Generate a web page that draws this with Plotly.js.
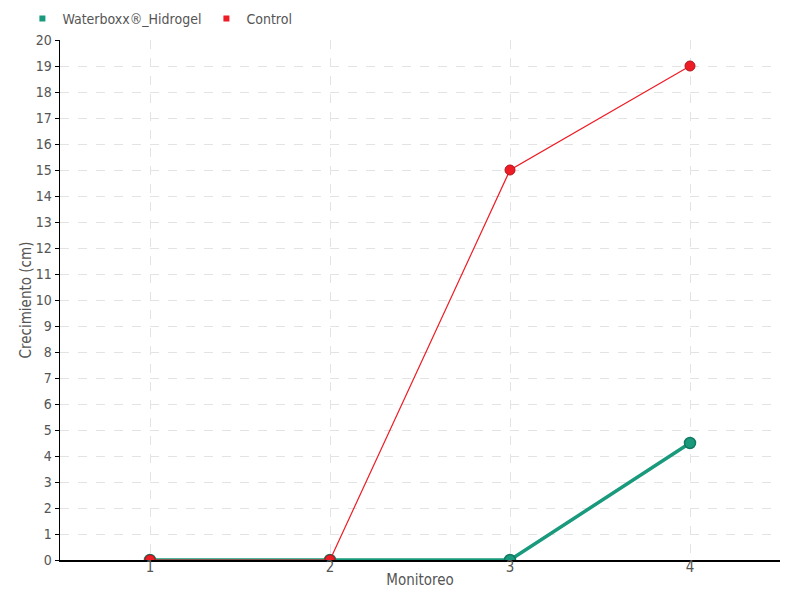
<!DOCTYPE html>
<html>
<head>
<meta charset="utf-8">
<script src="https://cdn.plot.ly/plotly-3.0.1.min.js"></script>
<style>body{margin:0;padding:0;}#chart{width:800px;height:600px;}</style>
</head>
<body>
<div id="chart"></div>
<script>
var categories = [1, 2, 3, 4];
var waterboxx = [0, 0, 0, 4.5];
var control = [0, 0, 15, 19];
var yTicks = [0,1,2,3,4,5,6,7,8,9,10,11,12,13,14,15,16,17,18,19,20];

var green = '#1a9a7c';
var red = '#ee1c25';
var fontFam = '"DejaVu Sans Condensed", sans-serif';

var traces = [
  {x: categories, y: waterboxx, mode: 'lines+markers', name: 'Waterboxx®_Hidrogel', showlegend: false,
   line: {color: green, width: 3.5}, marker: {color: green, size: 11, line: {color: '#137a62', width: 1.5}}},
  {x: categories, y: control, mode: 'lines+markers', name: 'Control', showlegend: false,
   line: {color: red, width: 1.2}, marker: {color: red, size: 10, line: {color: '#b5121a', width: 1}}},
  {x: [null], y: [null], mode: 'markers', name: 'Waterboxx®_Hidrogel',
   marker: {color: green, symbol: 'square', size: 6}},
  {x: [null], y: [null], mode: 'markers', name: 'Control',
   marker: {color: red, symbol: 'square', size: 6}}
];

var layout = {
  width: 800, height: 600,
  margin: {l: 60, r: 20, t: 40, b: 40},
  paper_bgcolor: '#fff', plot_bgcolor: '#fff',
  font: {family: fontFam, color: '#555', size: 14},
  showlegend: true,
  legend: {orientation: 'h', x: 0.028, xanchor: 'left', y: 0.995, yanchor: 'top', xref: 'container', yref: 'container',
           font: {size: 14, color: '#555'}, itemwidth: 30, tracegroupgap: 0, bgcolor: 'rgba(0,0,0,0)'},
  xaxis: {
    range: [0.5, 4.5], tickvals: categories, ticktext: categories.map(String),
    showline: true, linecolor: '#000', linewidth: 1.5, zeroline: false,
    ticks: 'outside', ticklen: 0, tickcolor: '#000', ticklabelstandoff: -8,
    showgrid: true, gridcolor: '#e3e3e3', griddash: 'dash', gridwidth: 1,
    title: {text: 'Monitoreo', standoff: 0, font: {size: 15, color: '#555'}},
    tickfont: {size: 15, color: '#555'}, fixedrange: true
  },
  yaxis: {
    range: [0, 20], tickvals: yTicks, ticktext: yTicks.map(String),
    showline: true, linecolor: '#000', linewidth: 1.5, zeroline: false,
    ticks: 'outside', ticklen: 4, tickcolor: '#000',
    showgrid: true, gridcolor: '#e3e3e3', griddash: 'dash', gridwidth: 1,
    title: {text: 'Crecimiento (cm)', standoff: 0, font: {size: 15, color: '#555'}},
    tickfont: {size: 14, color: '#555'}, fixedrange: true
  }
};

Plotly.newPlot('chart', traces, layout, {displayModeBar: false, staticPlot: true});
</script>
</body>
</html>
